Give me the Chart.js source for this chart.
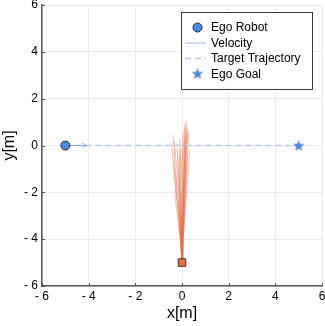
<!DOCTYPE html>
<html><head><meta charset="utf-8">
<script src="https://cdn.jsdelivr.net/npm/chart.js@4.4.0/dist/chart.umd.min.js"></script>
<style>html,body{margin:0;padding:0;background:#fff}</style>
</head><body><canvas id="c" width="325" height="326"></canvas>
<script>
const xTicks = [-6, -4, -2, 0, 2, 4, 6];
const yTicks = [-6, -4, -2, 0, 2, 4, 6];
const egoRobot = [-5, 0];
const velocityX = [-5, -4.1];
const velocityY = [0, 0];
const targetX = [-5, 5];
const targetY = [0, 0];
const egoGoal = [5, 0];
const otherRobot = [0, -5];
const trajectories = [
  [[0,-5],[0.02,-4],[0.05,-3],[0.08,-2],[0.12,-1],[0.16,0],[0.2,1.05]],
  [[0,-5],[-0.03,-4],[-0.08,-3],[-0.14,-2],[-0.22,-1],[-0.32,0],[-0.4,0.45]],
  [[0,-5],[0.03,-4],[0.07,-3],[0.13,-2],[0.2,-1],[0.26,0],[0.3,0.55]],
  [[0,-5],[-0.02,-4],[-0.05,-3],[-0.1,-2],[-0.15,-1],[-0.18,-0.2]],
  [[0,-5],[0.01,-4],[0.03,-3],[0.06,-2],[0.1,-1],[0.13,0],[0.14,0.85]],
  [[0,-5],[-0.05,-4],[-0.12,-3],[-0.2,-2],[-0.26,-1.2]],
  [[0,-5],[0.02,-4],[0.04,-3],[0.05,-2],[0.07,-1],[0.1,0],[0.12,0.95]],
  [[0,-5],[-0.04,-4],[-0.1,-3],[-0.18,-2.2],[-0.25,-1.5],[-0.3,-0.8],[-0.35,0.2]],
  [[0,-5],[0.04,-4],[0.09,-3],[0.15,-2],[0.2,-1.2],[0.24,-0.5]],
  [[0,-5],[-0.01,-4],[-0.02,-3],[-0.04,-2],[-0.05,-1],[-0.06,-0.1]],
  [[0,-5],[0.05,-4],[0.12,-3],[0.2,-2],[0.28,-1],[0.32,-0.2]],
  [[0,-5],[-0.06,-4],[-0.14,-3.1],[-0.22,-2.3],[-0.3,-1.5],[-0.36,-0.6]],
  [[0,-5],[0.01,-4],[0.02,-3],[0.03,-2],[0.05,-1],[0.07,0],[0.09,0.7]],
  [[0,-5],[-0.03,-4],[-0.06,-3],[-0.09,-2],[-0.1,-1],[-0.1,-0.4]],
  [[0,-5],[0.03,-4],[0.06,-3],[0.1,-2],[0.14,-1],[0.18,0],[0.22,0.35]],
  [[0,-5],[-0.08,-4],[-0.17,-3.2],[-0.26,-2.5],[-0.31,-1.9]],
  [[0,-5],[0.02,-4],[0.05,-3],[0.1,-2],[0.15,-1.1],[0.18,-0.3],[0.22,0.6]],
  [[0,-5],[-0.02,-4],[-0.03,-3],[-0.03,-2],[-0.02,-1],[0,-0.3]],
  [[0,-5],[0.06,-4],[0.11,-3],[0.14,-2.2],[0.17,-1.5]],
  [[0,-5],[-0.04,-4],[-0.08,-3],[-0.12,-2],[-0.17,-1],[-0.22,0.1]],
  [[0,-5],[0.01,-4],[0.04,-3],[0.08,-2],[0.11,-1],[0.15,0],[0.17,0.75]],
  [[0,-5],[-0.01,-4],[-0.01,-3],[0.0,-2],[0.02,-1],[0.03,0],[0.04,0.5]],
  [[0,-5],[-0.07,-4],[-0.15,-3],[-0.25,-2],[-0.35,-1],[-0.44,0.1]],
  [[0,-5],[0.02,-4],[0.06,-3],[0.1,-2],[0.16,-1],[0.21,0],[0.26,0.7]],
  [[0,-5],[-0.02,-4],[-0.04,-3],[-0.07,-2],[-0.08,-1],[-0.09,0],[-0.1,0.3]],
  [[0,-5],[0.03,-4],[0.05,-3],[0.07,-2],[0.09,-1],[0.11,0],[0.13,0.4]]
];
const legendLabels = ['Ego Robot', 'Velocity', 'Target Trajectory', 'Ego Goal'];

const BLUE = '#4a8ae6';
const VEL = 'rgba(120,160,235,0.75)';
const TGT = '#b3cbf1';
const ORANGE_LINE = 'rgba(227,111,71,0.42)';
const ORANGE = '#e0703f';
const FONT = '"Liberation Sans", Arial, Helvetica, sans-serif';

function makeStar(size, color) {
  const c = document.createElement('canvas');
  c.width = size; c.height = size;
  const g = c.getContext('2d');
  const cx = size / 2, cy = size / 2 + 0.5, R = size / 2 - 0.5, r = R * 0.42;
  g.beginPath();
  for (let i = 0; i < 10; i++) {
    const rad = (i % 2 === 0) ? R : r;
    const a = -Math.PI / 2 + i * Math.PI / 5;
    const px = cx + rad * Math.cos(a), py = cy + rad * Math.sin(a);
    if (i === 0) g.moveTo(px, py); else g.lineTo(px, py);
  }
  g.closePath();
  g.fillStyle = color; g.fill();
  g.strokeStyle = 'rgba(40,80,150,0.6)'; g.lineWidth = 0.5; g.stroke();
  return c;
}
const starImg = makeStar(12, BLUE);

const datasets = [];
trajectories.forEach((t, i) => {
  datasets.push({
    data: t.map(p => ({x: p[0], y: p[1]})),
    showLine: true, borderColor: ORANGE_LINE, borderWidth: 1,
    pointRadius: 0, order: 10
  });
});
datasets.push({
  data: targetX.map((x, i) => ({x, y: targetY[i]})),
  showLine: true, borderColor: TGT, borderWidth: 1.5, borderDash: [6, 4],
  pointRadius: 0, order: 9
});
datasets.push({
  id: 'vel',
  data: velocityX.map((x, i) => ({x, y: velocityY[i]})),
  showLine: true, borderColor: VEL, borderWidth: 1,
  pointRadius: 0, order: 8
});
datasets.push({
  data: [{x: otherRobot[0], y: otherRobot[1]}],
  pointStyle: 'rect', pointRadius: 5.3, backgroundColor: ORANGE,
  borderColor: '#333', borderWidth: 1, order: 2
});
datasets.push({
  data: [{x: egoRobot[0], y: egoRobot[1]}],
  pointStyle: 'circle', pointRadius: 4.5, backgroundColor: BLUE,
  borderColor: '#2b2b2b', borderWidth: 1, order: 1
});
datasets.push({
  data: [{x: egoGoal[0], y: egoGoal[1]}],
  pointStyle: starImg, pointRadius: 6, order: 0
});
const velIndex = datasets.findIndex(d => d.id === 'vel');

const fmt = v => v < 0 ? '- ' + Math.abs(v) : String(v);

const decor = {
  id: 'decor',
  afterDatasetsDraw(chart) {
    const ctx = chart.ctx, ca = chart.chartArea;
    const xs = chart.scales.x, ys = chart.scales.y;
    const meta = chart.getDatasetMeta(velIndex);
    const p1 = meta.data[0], p2 = meta.data[meta.data.length - 1];
    const ang = Math.atan2(p2.y - p1.y, p2.x - p1.x);
    ctx.save();
    ctx.strokeStyle = VEL; ctx.lineWidth = 1;
    ctx.beginPath();
    ctx.moveTo(p2.x - 5 * Math.cos(ang - 0.5), p2.y - 5 * Math.sin(ang - 0.5));
    ctx.lineTo(p2.x, p2.y);
    ctx.lineTo(p2.x - 5 * Math.cos(ang + 0.5), p2.y - 5 * Math.sin(ang + 0.5));
    ctx.stroke();
    ctx.strokeStyle = '#555'; ctx.lineWidth = 1;
    ctx.beginPath();
    xTicks.forEach(v => { const px = Math.round(xs.getPixelForValue(v)) + 0.5; ctx.moveTo(px, ca.bottom); ctx.lineTo(px, ca.bottom - 3); });
    yTicks.forEach(v => { const py = Math.round(ys.getPixelForValue(v)) + 0.5; ctx.moveTo(ca.left, py); ctx.lineTo(ca.left + 3, py); });
    ctx.stroke();
    const bx = ca.right - 141, by = ca.top + 7, bw = 131, bh = 77;
    ctx.fillStyle = '#fff';
    ctx.fillRect(bx, by, bw, bh);
    ctx.strokeStyle = '#3a3a3a'; ctx.lineWidth = 1;
    ctx.strokeRect(Math.round(bx) + 0.5, Math.round(by) + 0.5, bw, bh);
    ctx.font = '12px ' + FONT;
    ctx.textBaseline = 'middle'; ctx.textAlign = 'left'; ctx.fillStyle = '#000';
    const rows = [by + 15.5, by + 31, by + 46.5, by + 62];
    const mx0 = bx + 4, mx1 = bx + 25, mc = bx + 16.5, tx = bx + 30;
    legendLabels.forEach((lab, i) => ctx.fillText(lab, tx, rows[i] + 0.5));
    ctx.beginPath(); ctx.arc(mc, rows[0], 4.5, 0, Math.PI * 2);
    ctx.fillStyle = BLUE; ctx.fill(); ctx.strokeStyle = '#2b2b2b'; ctx.stroke();
    ctx.beginPath(); ctx.strokeStyle = VEL; ctx.moveTo(mx0, rows[1]); ctx.lineTo(mx1, rows[1]); ctx.stroke();
    ctx.beginPath(); ctx.strokeStyle = TGT; ctx.lineWidth = 1.5; ctx.setLineDash([6, 4]);
    ctx.moveTo(mx0, rows[2]); ctx.lineTo(mx1, rows[2]); ctx.stroke(); ctx.setLineDash([]);
    ctx.drawImage(starImg, mc - 6, rows[3] - 6.5);
    ctx.restore();
  }
};

new Chart(document.getElementById('c'), {
  type: 'scatter',
  data: { datasets },
  options: {
    responsive: false, animation: false, devicePixelRatio: 1,
    layout: { autoPadding: false, padding: { top: 5, right: 3, left: 0, bottom: 0 } },
    plugins: { legend: { display: false }, tooltip: { enabled: false } },
    scales: {
      x: {
        type: 'linear', min: -6, max: 6,
        afterBuildTicks: s => { s.ticks = xTicks.map(v => ({value: v})); },
        afterFit: s => { s.height = 40; s.paddingLeft = 0; s.paddingRight = 0; },
        grid: { color: '#ececec', drawTicks: false },
        border: { color: '#555', width: 1.5 },
        ticks: { callback: fmt, padding: 3, color: '#000', maxRotation: 0, font: { size: 12, family: FONT } },
        title: { display: true, text: 'x[m]', color: '#000', font: { size: 16, family: FONT }, padding: { top: 0, bottom: 3 } }
      },
      y: {
        type: 'linear', min: -6, max: 6,
        afterBuildTicks: s => { s.ticks = yTicks.map(v => ({value: v})); },
        afterFit: s => { s.width = 42; s.paddingTop = 0; s.paddingBottom = 0; },
        grid: { color: '#ececec', drawTicks: false },
        border: { color: '#555', width: 1.5 },
        ticks: { callback: fmt, padding: 4, color: '#000', font: { size: 12, family: FONT } },
        title: { display: true, text: 'y[m]', color: '#000', font: { size: 16, family: FONT }, padding: { top: 0, bottom: 0 } }
      }
    }
  },
  plugins: [decor]
});
</script>
</body></html>
